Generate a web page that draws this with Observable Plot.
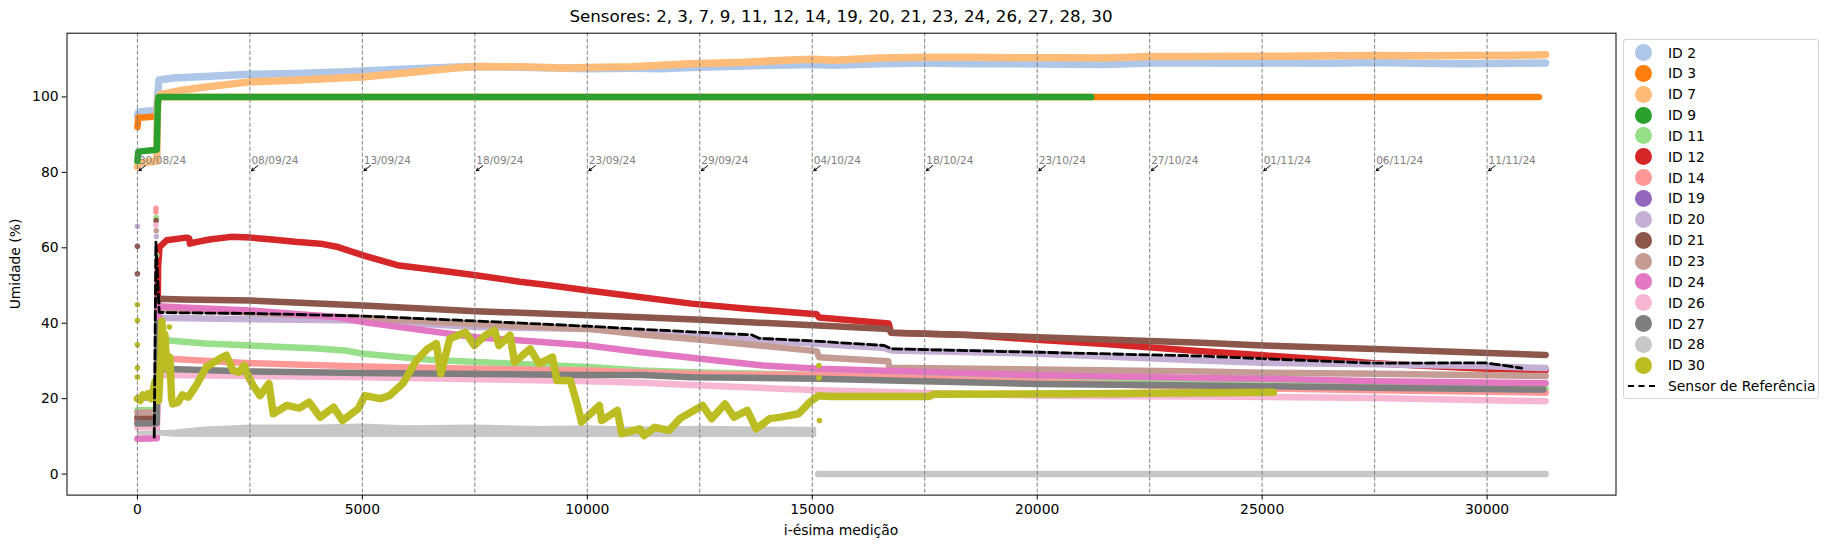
<!DOCTYPE html>
<html><head><meta charset="utf-8">
<script src="https://cdn.jsdelivr.net/npm/d3@7"></script>
<script src="https://cdn.jsdelivr.net/npm/@observablehq/plot@0.6"></script>
<style>
body{margin:0;background:#fff;font-family:"DejaVu Sans",sans-serif;}
#wrap{position:relative;width:1829px;height:548px;}
#title{position:absolute;left:0;width:1682px;top:6px;text-align:center;font-size:16.7px;}
#ylab{position:absolute;left:15px;top:264px;transform:translate(-50%,-50%) rotate(-90deg);font-size:13.9px;white-space:nowrap;}
#xlab{position:absolute;left:841px;top:530px;transform:translate(-50%,-50%);font-size:13.9px;white-space:nowrap;}
#legend{position:absolute;left:1623px;top:39px;width:196px;height:360px;border:1px solid #d4d4d4;border-radius:3px;box-sizing:border-box;font-size:13.9px;}
.li{position:absolute;left:0;height:20px;display:flex;align-items:center;}
.sw{position:absolute;left:11px;width:17px;height:17px;border-radius:50%;}
.ln{position:absolute;left:4px;width:27px;height:0;border-top:2.6px dashed #000;}
.lt{position:absolute;left:44px;white-space:nowrap;}
</style></head>
<body><div id="wrap"><div id="chart"></div><div id="title"></div><div id="ylab"></div><div id="xlab"></div><div id="legend"></div></div>
<script>
// ---- data ----
const titleText = "Sensores: 2, 3, 7, 9, 11, 12, 14, 19, 20, 21, 23, 24, 26, 27, 28, 30";
const xLabel = "i-ésima medição";
const yLabel = "Umidade (%)";
const refLabel = "Sensor de Referência";
const ids = ["ID 2","ID 3","ID 7","ID 9","ID 11","ID 12","ID 14","ID 19","ID 20","ID 21","ID 23","ID 24","ID 26","ID 27","ID 28","ID 30"];
const colors = ["#aec7e8","#ff7f0e","#ffbb78","#2ca02c","#98df8a","#d62728","#ff9896","#9467bd","#c5b0d5","#8c564b","#c49c94","#e377c2","#f7b6d2","#7f7f7f","#c7c7c7","#bcbd22"];
const xTicks = [0,5000,10000,15000,20000,25000,30000];
const yTicks = [0,20,40,60,80,100];
const datePos = [0,2500,5000,7500,10000,12500,15000,17500,20000,22500,25000,27500,30000];
const dateLabels = ["30/08/24","08/09/24","13/09/24","18/09/24","23/09/24","29/09/24","04/10/24","18/10/24","23/10/24","27/10/24","01/11/24","06/11/24","11/11/24"];

const id2 = [[0,95],[30,96],[430,96.5],[450,100.5],[480,104.5],[800,105],[1500,105.4],[2500,106],[3500,106.2],[4500,106.6],[5000,106.9],[6000,107.4],[7000,107.9],[7500,108.1],[8500,107.9],[9500,107.6],[10000,107.5],[11000,107.6],[11644,107.5],[12300,107.8],[13500,108.2],[14500,108.5],[15000,108.6],[15500,108.4],[16500,108.8],[17500,109],[18500,108.8],[19500,108.8],[20500,108.7],[21500,108.6],[22500,109],[23500,109],[24500,108.9],[25500,109],[26500,108.9],[27500,109.1],[28500,108.9],[29500,108.8],[30500,108.9],[31300,109]];
const id3 = [[0,92],[20,94.5],[430,94.8],[450,98],[470,100],[31150,100]];
const id7 = [[0,81.5],[30,82.5],[430,83],[445,97],[460,99.5],[500,100.6],[1000,101.8],[1500,102.6],[2500,104],[3500,104.4],[4500,105],[5000,105.3],[6000,106.4],[7000,107.6],[7500,108.1],[8500,108],[9500,107.7],[10000,107.8],[11000,108],[11644,108.4],[12300,108.8],[13500,109.2],[14500,109.8],[15000,110],[15500,109.7],[16500,110.3],[17500,110.5],[18500,110.5],[19500,110.4],[20500,110.4],[21500,110.3],[22500,110.7],[23500,110.7],[24500,110.8],[25500,110.8],[26500,110.9],[27500,111],[28500,110.9],[29500,111],[30500,111],[31300,111.2]];
const id9 = [[0,83],[20,85.5],[430,86],[455,98.5],[470,100],[21200,100]];
const id11 = [[0,16.9],[430,17],[460,40],[520,37],[700,35.4],[1500,34.6],[2515,34.1],[4000,33.3],[4600,32.8],[5016,31.9],[6500,30.3],[7520,29.7],[10020,28.4],[11200,27.5],[12310,27],[15131,26.3],[20016,24.8],[23654,24.4],[27500,23.5],[31300,22.6]];
const id12 = [[0,14],[430,14.2],[460,55],[490,60.2],[650,62],[1088,62.7],[1150,62.5],[1168,61.1],[1300,61.5],[1600,62.2],[2080,62.9],[2515,62.7],[3000,62.2],[3500,61.6],[4066,61.1],[4460,60.2],[5016,58],[5814,55.3],[6500,54.3],[7520,52.7],[8500,51],[9200,50],[10020,48.7],[11200,46.9],[12310,45.2],[13500,43.9],[15100,42.4],[15150,41.5],[16700,39.9],[16750,37.5],[18500,36.9],[20000,35.6],[21500,34.5],[23430,32.8],[25010,31.5],[26500,30.3],[27500,29.4],[28800,28.6],[29880,28],[31300,27.5]];
const id14 = [[0,13.8],[430,14],[460,31.5],[700,30.6],[2515,29.4],[5016,28.5],[7520,27.9],[10020,27.5],[12310,26.6],[15131,26.2],[20016,24.4],[23654,23],[27500,22.2],[31300,21.6]];
const id19 = [];
const id20 = [[0,20],[430,20.5],[470,41.5],[650,41.4],[5016,40.7],[7520,39],[10020,38.5],[12310,36.8],[12518,36.5],[15000,34.6],[16600,33.4],[16760,32.8],[20016,31.9],[23654,30.1],[25010,29.5],[27500,29.1],[30030,28.6],[31300,28.1]];
const id21 = [[0,15],[430,15.1],[460,46.5],[1000,46.3],[2515,46],[5016,44.7],[7520,43.2],[10020,42.1],[11200,41.6],[12518,40.9],[15131,39.4],[16703,38.5],[16760,37.5],[20016,36.3],[23654,34.8],[25010,34.1],[27500,33.2],[30030,32.1],[31300,31.6]];
const id23 = [[0,16.3],[430,16.3],[470,43.8],[3000,42.6],[5016,41.4],[7520,39.8],[10020,38.5],[11200,37],[12518,35.6],[15100,32.6],[15150,31],[16690,29.9],[16710,28.2],[20016,27.7],[23654,27.2],[25010,26.9],[27500,26.6],[31300,26]];
const id24 = [[0,9.4],[430,9.5],[460,44.5],[1000,44.2],[2515,43.4],[4460,41.6],[5016,40.3],[7520,36.3],[10020,34.1],[11200,32.3],[12518,30.6],[13900,28.8],[15131,27.9],[20016,26.2],[23654,25.5],[25010,25.3],[27500,24.6],[31300,24.1]];
const id26 = [[0,12.4],[430,12.5],[460,26.5],[650,26.3],[5016,25.7],[10020,24.6],[11200,24.2],[12310,23.6],[15131,22.2],[20016,20.8],[23654,20.6],[27500,20.2],[31300,19.3]];
const id27 = [[0,13.4],[430,13.5],[445,40],[470,29],[520,27.9],[2515,27.2],[5016,26.8],[10020,26.3],[11200,26.3],[12310,25.7],[15131,25.3],[20016,23.9],[23654,23.5],[27500,22.9],[31250,22.4]];
const id28Band = [[0,10.2,11.3],[400,10.2,11.5],[800,9.8,11.6],[1500,9.7,12.5],[2500,9.7,13],[4000,9.7,13],[5000,9.7,13.3],[6000,9.7,12.8],[7500,9.7,13],[9000,9.7,12.6],[10000,9.7,12.8],[11000,9.7,12.5],[12500,9.7,12.7],[14000,9.7,12.5],[15100,9.7,12.4]];
const id28 = [[15130,0],[31300,0]];
const id30 = [[0,20],[60,19.5],[120,21],[180,20.5],[240,21.3],[300,20],[350,22],[390,24.4],[430,22],[470,19.5],[520,30],[545,40.5],[575,33],[610,37],[650,29],[690,27.5],[720,31],[760,20],[787,18.6],[900,19],[1000,21],[1134,20.4],[1332,24],[1532,28.4],[1830,30.6],[1977,31.5],[2124,27.5],[2260,27],[2375,28.8],[2475,25.7],[2573,23.5],[2723,20.8],[2923,24],[3020,16],[3318,18.2],[3600,17.5],[3814,19.1],[4063,15.1],[4361,17.7],[4560,14.2],[4906,17.3],[5055,20.8],[5404,20],[5602,20.8],[5900,24],[6198,30.1],[6446,33.2],[6646,34.6],[6743,26.6],[6943,35.9],[7290,37.6],[7489,34.1],[7738,36.8],[7936,38.1],[8036,34.1],[8283,36.8],[8383,29.7],[8730,33.2],[8928,29.3],[9226,31],[9325,24.8],[9623,24.8],[9772,18.6],[9872,13.8],[10268,18.2],[10318,14.2],[10667,16.9],[10765,10.7],[11163,12],[11263,10.2],[11500,12.4],[11819,11.6],[12057,14.7],[12166,15.5],[12562,18.2],[12762,14.7],[13060,18.6],[13258,15.1],[13556,16.9],[13754,12],[14052,14.7],[14301,15.1],[14697,16],[14946,19.1],[15144,20.8],[15393,20.6],[17600,20.6],[17700,21.2],[21000,21.3],[25250,21.7]];
const refSensor = [[374,9.8],[411,61.5],[485,42.9],[650,42.8],[2500,42.6],[5016,41.9],[7520,40.6],[10020,39.2],[11200,38.4],[12518,37.6],[13660,36.9],[13820,36],[15010,35.3],[16600,34.1],[16760,33.2],[20016,32.3],[23654,31.3],[25010,30.6],[27500,29.4],[29960,29.5],[30770,28.1]];
// stray scatter points [x, y, seriesIndex]
const strayDots = [[0,65.7,8],[0,60.4,9],[0,53.1,9],[0,44.9,15],[0,40.7,15],[0,34.3,15],[0,28.2,15],[0,25.7,15],
  [411,70.5,6],[411,69.5,6],[420,68,4],[415,67.2,9],[411,66,12],[420,64.5,10],[420,63,8],[430,58,4],[708,39,15],[708,25.7,15],
  [15147,28.8,15],[15147,25.5,15],[15160,14.2,15]];

const seriesList = [id2,id3,id7,id9,id11,id12,id14,id19,id20,id21,id23,id24,id26,id27,id28,id30];

// ---- chart ----
const marks = [];
seriesList.forEach((s, i) => {
  if (ids[i] === "ID 28") {
    marks.push(Plot.areaY(id28Band, {x: d => d[0], y1: d => d[1], y2: d => d[2], fill: colors[i]}));
  }
  if (s.length) marks.push(Plot.line(s, {x: d => d[0], y: d => d[1], stroke: colors[i], strokeWidth: (i===0||i===2) ? 7.5 : (i===15 ? 7.5 : 6.5), strokeLinejoin: "round", strokeLinecap: "round"}));
});
marks.push(Plot.dot(strayDots, {x: d => d[0], y: d => d[1], r: 2.8, fill: d => colors[d[2]], stroke: "none"}));
marks.push(Plot.line(refSensor, {x: d => d[0], y: d => d[1], stroke: "black", strokeWidth: 2.8, strokeDasharray: "9,4"}));
marks.push(Plot.ruleX(datePos, {stroke: "#7f7f7f", strokeWidth: 1, strokeDasharray: "4,2"}));
marks.push(Plot.text(datePos, {x: d => d, y: () => 82, text: (d, i) => dateLabels[i], textAnchor: "start", dx: 1.5, dy: -4, fill: "#808080", fontSize: 10.5}));
marks.push(Plot.arrow(datePos, {x1: d => d + 180, y1: () => 81.8, x2: d => d + 35, y2: () => 80.45, stroke: "black", strokeWidth: 1, headLength: 4.5}));
marks.push(Plot.frame({stroke: "black", strokeWidth: 1}));
marks.push(Plot.axisX(xTicks, {tickSize: 4.9, tickPadding: 4, tickFormat: d => String(d), label: null, fontSize: 13.9}));
marks.push(Plot.axisY(yTicks, {tickSize: 4.9, tickPadding: 3.5, tickFormat: d => String(d), label: null, fontSize: 13.9}));

const chart = Plot.plot({
  width: 1829, height: 548,
  marginLeft: 66.5, marginRight: 213.5, marginTop: 32.7, marginBottom: 53.4,
  x: {domain: [-1565, 32865]},
  y: {domain: [-5.57, 116.9]},
  style: {fontFamily: "DejaVu Sans", fontSize: "13.9px", color: "black", background: "white"},
  marks
});
document.getElementById("chart").appendChild(chart);
document.getElementById("title").textContent = titleText;
document.getElementById("ylab").textContent = yLabel;
document.getElementById("xlab").textContent = xLabel;

const leg = document.getElementById("legend");
ids.forEach((id, i) => {
  const row = document.createElement("div");
  row.className = "li"; row.style.top = (2.5 + i * 20.85) + "px";
  row.innerHTML = `<span class="sw" style="background:${colors[i]}"></span><span class="lt">${id}</span>`;
  leg.appendChild(row);
});
const rrow = document.createElement("div");
rrow.className = "li"; rrow.style.top = (2.5 + ids.length * 20.85) + "px";
rrow.innerHTML = `<span class="ln" style="top:9px"></span><span class="lt">${refLabel}</span>`;
leg.appendChild(rrow);
</script></body></html>
